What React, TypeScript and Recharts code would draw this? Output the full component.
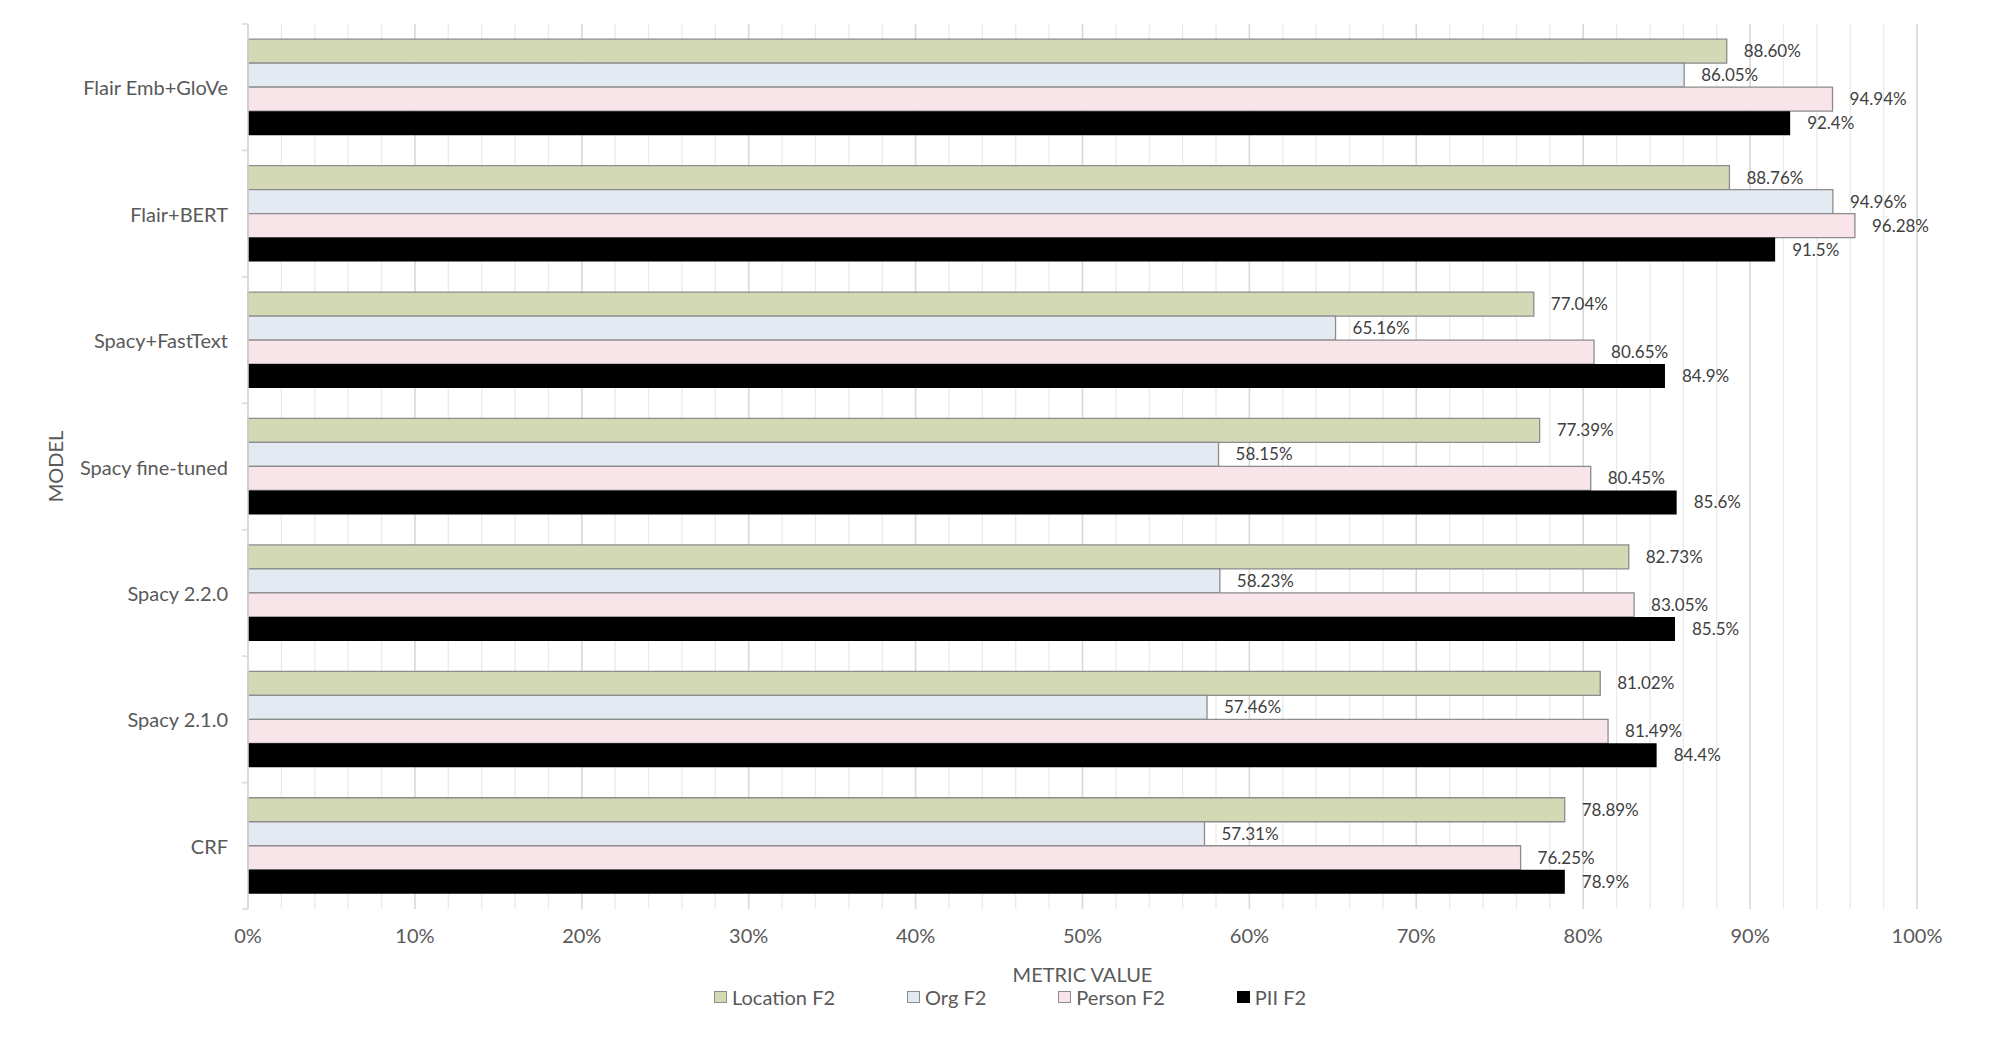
import React from "react";
import { Bar, BarChart, CartesianGrid, Label, LabelList, Legend, XAxis, YAxis } from "recharts";

const models = [
  "Flair Emb+GloVe",
  "Flair+BERT",
  "Spacy+FastText",
  "Spacy fine-tuned",
  "Spacy 2.2.0",
  "Spacy 2.1.0",
  "CRF",
];

const locationF2 = [88.6, 88.76, 77.04, 77.39, 82.73, 81.02, 78.89];
const orgF2 = [86.05, 94.96, 65.16, 58.15, 58.23, 57.46, 57.31];
const personF2 = [94.94, 96.28, 80.65, 80.45, 83.05, 81.49, 76.25];
const piiF2 = [92.4, 91.5, 84.9, 85.6, 85.5, 84.4, 78.9];

const xTicks = [0, 10, 20, 30, 40, 50, 60, 70, 80, 90, 100];
const minorTicks = [
  0, 2, 4, 6, 8, 10, 12, 14, 16, 18, 20, 22, 24, 26, 28, 30, 32, 34, 36, 38, 40, 42, 44, 46, 48, 50,
  52, 54, 56, 58, 60, 62, 64, 66, 68, 70, 72, 74, 76, 78, 80, 82, 84, 86, 88, 90, 92, 94, 96, 98, 100,
];

const data = models.map((model, i) => ({
  model,
  location: locationF2[i],
  org: orgF2[i],
  person: personF2[i],
  pii: piiF2[i],
}));

const SERIES = [
  { key: "location", name: "Location F2", fill: "#D3D9B5", stroke: "#8C8C8C", digits: 2 },
  { key: "org", name: "Org F2", fill: "#E3EAF1", stroke: "#8C8C8C", digits: 2 },
  { key: "person", name: "Person F2", fill: "#F8E4E9", stroke: "#8C8C8C", digits: 2 },
  { key: "pii", name: "PII F2", fill: "#000000", stroke: "none", digits: 1 },
];

const TEXT = "#595959";
const AXIS_W = 240;
const TICK_MARGIN = 14;
const TICK_SIZE = 6;

function ModelTick(props: any) {
  const { x, y, payload, index, visibleTicksCount } = props;
  const half = payload?.offset ?? 0;
  const lineX = x + TICK_MARGIN + TICK_SIZE;
  return (
    <g>
      <text x={x} y={y} textAnchor="end" dominantBaseline="central" fill={TEXT} fontSize={20}>
        {payload.value}
      </text>
      <line x1={lineX - 6} x2={lineX} y1={y - half} y2={y - half} stroke="#D9D9D9" strokeWidth={1.5} />
      {index === visibleTicksCount - 1 && (
        <line x1={lineX - 6} x2={lineX} y1={y + half} y2={y + half} stroke="#D9D9D9" strokeWidth={1.5} />
      )}
    </g>
  );
}

function renderLegend() {
  return (
    <div style={{ display: "flex", justifyContent: "center", alignItems: "center", height: 24 }}>
      {SERIES.map((s, i) => (
        <div
          key={s.key}
          style={{ display: "flex", alignItems: "center", marginRight: i === SERIES.length - 1 ? 0 : 72 }}
        >
          <span
            style={{
              display: "inline-block",
              width: 11,
              height: 10,
              background: s.fill,
              border: `1.5px solid ${s.stroke === "none" ? s.fill : s.stroke}`,
              marginRight: 5,
            }}
          />
          <span style={{ fontSize: 20, color: TEXT }}>{s.name}</span>
        </div>
      ))}
    </div>
  );
}

export default function App() {
  return (
    <div style={{ fontFamily: "Lato, 'Noto Sans', sans-serif", width: 1990, height: 1030 }}>
      <BarChart
        layout="vertical"
        width={1990}
        height={1030}
        data={data}
        margin={{ top: 16, right: 81, bottom: 29, left: 0 }}
        barCategoryGap="12%"
        barGap={0}
      >
        <CartesianGrid horizontal={false} verticalValues={minorTicks} syncWithTicks stroke="#EAEAEA" strokeWidth={1.3} />
        <CartesianGrid horizontal={false} stroke="#D9D9D9" strokeWidth={1.5} />
        <XAxis
          type="number"
          domain={[0, 100]}
          ticks={xTicks}
          interval={0}
          tickFormatter={(v: number) => `${v}%`}
          axisLine={false}
          tickLine={false}
          tickMargin={14}
          height={76}
          tick={{ fill: TEXT, fontSize: 20 }}
        >
          <Label
            content={(p: any) => {
              const vb = p.viewBox;
              return (
                <text
                  x={vb.x + vb.width / 2}
                  y={vb.y + 65}
                  textAnchor="middle"
                  dominantBaseline="central"
                  fill={TEXT}
                  fontSize={20}
                >
                  METRIC VALUE
                </text>
              );
            }}
          />
        </XAxis>
        <YAxis
          type="category"
          dataKey="model"
          width={AXIS_W}
          interval={0}
          tickLine={false}
          tickSize={TICK_SIZE}
          tickMargin={TICK_MARGIN}
          axisLine={{ stroke: "#D9D9D9", strokeWidth: 1.5 }}
          tick={(p: any) => <ModelTick {...p} />}
        >
          <Label
            content={(p: any) => {
              const vb = p.viewBox;
              const cx = vb.x + 47;
              const cy = vb.y + vb.height / 2;
              return (
                <text
                  x={cx}
                  y={cy}
                  transform={`rotate(-90 ${cx} ${cy})`}
                  textAnchor="middle"
                  dominantBaseline="central"
                  fill={TEXT}
                  fontSize={20}
                >
                  MODEL
                </text>
              );
            }}
          />
        </YAxis>
        <Legend verticalAlign="bottom" content={renderLegend} wrapperStyle={{ left: 7, width: 1990 }} />
        {SERIES.map((s) => (
          <Bar
            key={s.key}
            dataKey={s.key}
            name={s.name}
            fill={s.fill}
            stroke={s.stroke}
            strokeWidth={1.3}
            isAnimationActive={false}
          >
            <LabelList
              dataKey={s.key}
              position="right"
              offset={17}
              fill="#404040"
              fontSize={17}
              formatter={(v: any) => `${Number(v).toFixed(s.digits)}%`}
            />
          </Bar>
        ))}
      </BarChart>
    </div>
  );
}
